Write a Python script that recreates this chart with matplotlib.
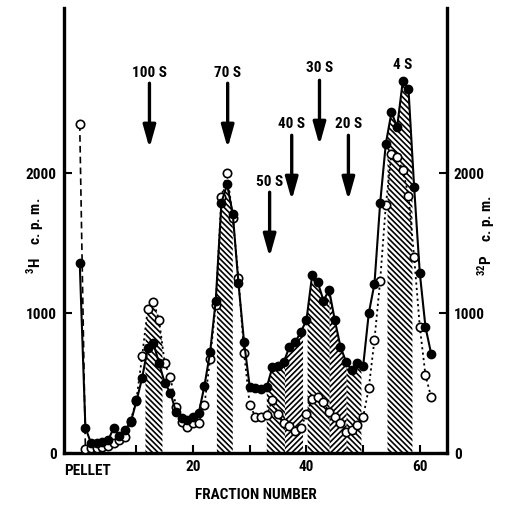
import numpy as np
import matplotlib
matplotlib.use("Agg")
import matplotlib.pyplot as plt
from matplotlib import font_manager

# ---------------- data ----------------
fractions = list(range(0, 63))
h3_cpm = [1360, 180, 70, 70, 80, 90, 180, 120, 165, 220,
          370, 535, 750, 785, 640, 500, 430, 290, 250, 235,
          255, 285, 480, 720, 1090, 1790, 1920, 1710, 1215, 790,
          470, 465, 460, 470, 615, 620, 650, 760, 790, 865,
          950, 1270, 1220, 1090, 1165, 950, 760, 650, 590, 640,
          620, 1000, 1210, 1785, 2210, 2435, 2330, 2660, 2600, 1900,
          1285, 900, 710]
p32_cpm = [2350, 30, 35, 35, 40, 50, 70, 95, 115, 230,
           380, 690, 1030, 1080, 950, 640, 540, 330, 220, 185,
           215, 215, 345, 670, 1060, 1830, 2000, 1680, 1250, 715,
           340, 260, 260, 270, 380, 280, 215, 190, 160, 180,
           280, 385, 400, 365, 290, 255, 215, 150, 165, 200,
           255, 465, 810, 1230, 1770, 2140, 2115, 2020, 1840, 1400,
           900, 555, 400]
hatch_bands = [(11.6, 14.6, '\\'), (24.2, 27.0, '\\'), (33.0, 36.2, '\\'),
               (36.2, 39.4, '/'), (40.2, 44.1, '\\'), (44.1, 47.1, '/'),
               (47.1, 49.7, '\\'), (54.3, 58.7, '\\')]
markers_s = ['100 S', '70 S', '50 S', '40 S', '30 S', '20 S', '4 S']
marker_x = [12.3, 26.1, 33.5, 37.4, 42.3, 47.4, 57.0]
label_y = [2714, 2714, 1936, 2350, 2750, 2350, 2771]
arrow_top = [2643, 2643, 1864, 2271, 2664, 2271, None]
arrow_tip = [2179, 2179, 1400, 1807, 2200, 1807, None]
x_ticks = [10, 20, 30, 40, 50, 60]
x_ticklabels = ['', '20', '', '40', '', '60']
y_ticks = [0, 1000, 2000]

# ---------------- style ----------------
names = {f.name for f in font_manager.fontManager.ttflist}
cands = ['Liberation Sans Narrow', 'Roboto Condensed', 'Open Sans Condensed',
         'Noto Sans Condensed', 'DejaVu Sans']
FONT = next(c for c in cands if c in names)
plt.rcParams['font.family'] = [FONT, 'DejaVu Sans']
plt.rcParams['font.stretch'] = 'condensed'
plt.rcParams['font.weight'] = 'bold'
plt.rcParams['mathtext.fontset'] = 'custom'
plt.rcParams['mathtext.rm'] = FONT + ':bold'
plt.rcParams['mathtext.bf'] = FONT + ':bold'
plt.rcParams['hatch.linewidth'] = 1.2

fig = plt.figure(figsize=(5.15, 5.07), dpi=100)
ax = fig.add_axes([0.124, 0.1065, 0.744, 0.8775])
ax.set_xlim(-2.8, 64.8)
ax.set_ylim(0, 3180)

x = np.array(fractions, dtype=float)
yf = np.array(h3_cpm, dtype=float)
yo = np.array(p32_cpm, dtype=float)
top = np.maximum(yf, yo)

for a, b, h in hatch_bands:
    inner = x[(x > a) & (x < b)]
    xs = np.concatenate([[a], inner, [b]])
    ys = np.interp(xs, x, top)
    ax.fill_between(xs, 0, ys, facecolor='none', edgecolor='black',
                    hatch=h * 6, linewidth=0, zorder=1)

# open circles (32P) dashed/dotted
ax.plot(x[:2], yo[:2], color='black', lw=1.2, dashes=(4, 2.5), zorder=2)
ax.plot(x[1:], yo[1:], color='black', lw=1.3, dashes=(1.2, 1.8), zorder=2)
ax.plot(x, yo, 'o', ms=6, mfc='white', mec='black', mew=1.2, ls='none', zorder=3)
# filled circles (3H) solid
ax.plot(x, yf, '-', color='black', lw=1.5, zorder=4)
ax.plot(x, yf, 'o', ms=6, mfc='black', mec='black', ls='none', zorder=5)

# arrows and labels
for name, mx, ly, at, tp in zip(markers_s, marker_x, label_y, arrow_top, arrow_tip):
    ax.text(mx, ly, name, ha='center', va='center', fontsize=11, fontweight='bold')
    if at is not None:
        ax.annotate('', xy=(mx, tp), xytext=(mx, at),
                    arrowprops=dict(arrowstyle='-|>,head_width=0.38,head_length=1.35',
                                    lw=2.4, color='black', shrinkA=0, shrinkB=0))

# spines / ticks
for s in ['left', 'right', 'bottom']:
    ax.spines[s].set_linewidth(2.4)
ax.spines['top'].set_visible(False)
ax.set_xticks(x_ticks)
ax.set_xticklabels(x_ticklabels)
ax.set_yticks(y_ticks)
ax.tick_params(axis='both', direction='in', length=6, width=1.5, labelsize=11)
ax.tick_params(axis='y', pad=5)
ax.tick_params(axis='x', pad=5)
for lab in ax.get_xticklabels() + ax.get_yticklabels():
    lab.set_fontweight('bold')

ax2 = ax.twinx()
ax2.set_ylim(0, 3180)
ax2.set_yticks(y_ticks)
ax2.tick_params(axis='y', direction='in', length=6, width=1.5, labelsize=11, pad=5)
for lab in ax2.get_yticklabels():
    lab.set_fontweight('bold')
for s in ['left', 'right', 'bottom', 'top']:
    ax2.spines[s].set_visible(False)

ax.text(-2.8, -0.025, 'PELLET', transform=ax.get_xaxis_transform(), ha='left',
        va='top', fontsize=11, fontweight='bold')
ax.set_xlabel('FRACTION NUMBER', fontsize=11, fontweight='bold', labelpad=10)
fig.text(0.068, 0.535, r'$^{3}$H    c. p. m.', rotation=90, ha='center', va='center',
         fontsize=11, fontweight='bold')
fig.text(0.945, 0.535, r'$^{32}$P    c. p. m.', rotation=90, ha='center', va='center',
         fontsize=11, fontweight='bold')

fig.savefig('out.png', dpi=100)
